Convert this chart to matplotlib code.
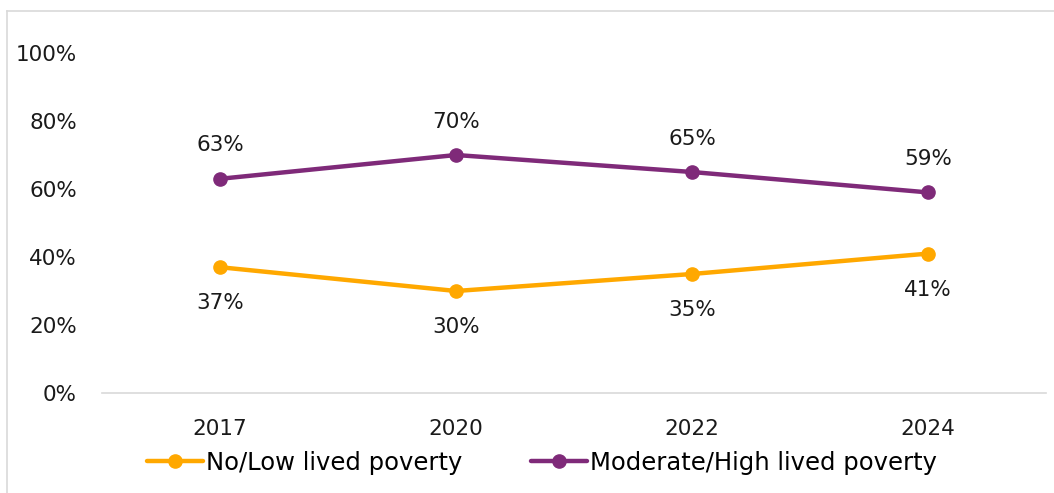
import matplotlib.pyplot as plt
from matplotlib.lines import Line2D

years = ["2017", "2020", "2022", "2024"]
low_poverty = [37, 30, 35, 41]
high_poverty = [63, 70, 65, 59]
series_names = ["No/Low lived poverty", "Moderate/High lived poverty"]

orange = "#FFA800"
purple = "#7F2A79"

plt.rcParams["font.family"] = ["DejaVu Sans"]

fig = plt.figure(figsize=(10.54, 4.93), dpi=100)
ax = fig.add_axes([102 / 1054, 1 - 393 / 493, 944 / 1054, 340 / 493])

# light frame around the chart area (only top and left edges are visible)
fx = 7 / 1054
fy = 1 - 11 / 493
fig.lines.append(Line2D([fx, 1.0], [fy, fy], transform=fig.transFigure,
                        color="#D9D9D9", lw=1.2))
fig.lines.append(Line2D([fx, fx], [0, fy], transform=fig.transFigure,
                        color="#D9D9D9", lw=1.2))

x = range(len(years))
ax.plot(x, low_poverty, color=orange, lw=3.2, marker="o", ms=9.5,
        label=series_names[0], solid_capstyle="round")
ax.plot(x, high_poverty, color=purple, lw=3.2, marker="o", ms=9.5,
        label=series_names[1], solid_capstyle="round")

for i, v in enumerate(low_poverty):
    ax.annotate(f"{v}%", (i, v), xytext=(0, -26), textcoords="offset points",
                ha="center", va="center", fontsize=15.5, color="#1a1a1a")
for i, v in enumerate(high_poverty):
    ax.annotate(f"{v}%", (i, v), xytext=(0, 24), textcoords="offset points",
                ha="center", va="center", fontsize=15.5, color="#1a1a1a")

ax.set_xlim(-0.5, 3.5)
ax.set_ylim(0, 100)
ax.set_xticks(list(x))
ax.set_xticklabels(years)
ax.set_yticks([0, 20, 40, 60, 80, 100])
ax.set_yticklabels([f"{t}%" for t in [0, 20, 40, 60, 80, 100]])
ax.tick_params(axis="both", length=0, labelsize=15.5, colors="#1a1a1a")
ax.tick_params(axis="y", pad=18)
ax.tick_params(axis="x", pad=19)

for s in ["top", "right", "left"]:
    ax.spines[s].set_visible(False)
ax.spines["bottom"].set_color("#D9D9D9")
ax.spines["bottom"].set_linewidth(1.2)

fig.legend(loc="center", bbox_to_anchor=(542 / 1054, 1 - 463 / 493), ncol=2,
           frameon=False, fontsize=17.5, handlelength=2.3, handletextpad=0.15,
           columnspacing=2.8)

fig.savefig("out.png", dpi=100)
